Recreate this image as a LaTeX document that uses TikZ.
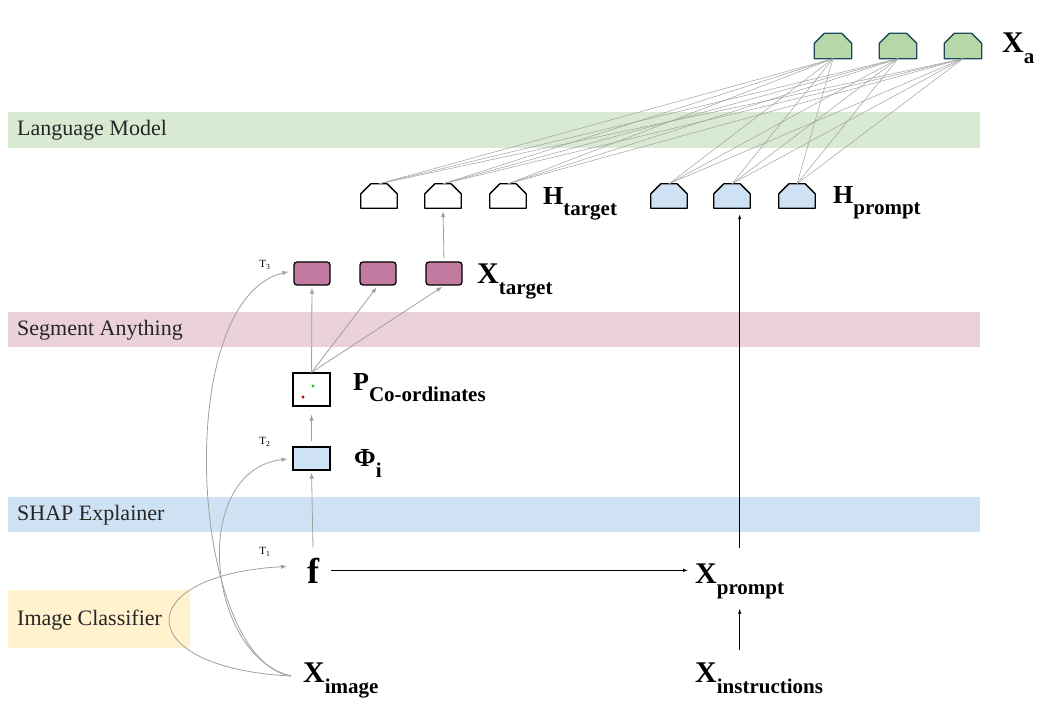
\documentclass[tikz,border=0pt]{standalone}
\usepackage{fontspec}
\setmainfont{Liberation Serif}
\usetikzlibrary{arrows.meta}

\definecolor{lmband}{HTML}{D9EAD3}
\definecolor{saband}{HTML}{EAD1DC}
\definecolor{shband}{HTML}{CFE2F3}
\definecolor{icband}{HTML}{FFF2CC}
\definecolor{tokgreen}{HTML}{B6D7A8}
\definecolor{tokedge}{HTML}{1C4A59}
\definecolor{tokblue}{HTML}{CFE2F3}
\definecolor{maskpink}{HTML}{C27BA0}
\definecolor{linkgray}{HTML}{A0A0A0}

% big symbol with a lowered subscript
\newcommand{\symlbl}[3]{{\fontsize{#1}{#1}\selectfont #2}\raisebox{-11pt}{\fontsize{21}{21}\selectfont #3}}
% token outline with cut top corners, drawn on a named node
\newcommand{\tokshape}[3]{\filldraw[fill=#2, draw=#3, line width=1.3pt, line join=round]
    (#1.south west) -- ([yshift=-10pt]#1.north west) -- ([xshift=10pt]#1.north west)
    -- ([xshift=-10pt]#1.north east) -- ([yshift=-10pt]#1.north east) -- (#1.south east) -- cycle;}

\begin{document}
\begin{tikzpicture}[x=1pt, y=-1pt,
    bandtext/.style={anchor=west, inner sep=0pt, text=black!85, font=\fontsize{22}{26}\selectfont},
    lbl/.style={anchor=base west, inner sep=0pt, font=\bfseries},
    tlbl/.style={inner sep=0pt, font=\fontsize{11}{11}\selectfont},
    tok/.style={rectangle, minimum width=36pt, minimum height=24pt, inner sep=0pt},
    mask/.style={rectangle, rounded corners=3pt, fill=maskpink, draw=black, line width=1.3pt,
        minimum width=36pt, minimum height=23pt, inner sep=0pt},
    link/.style={draw=linkgray, line width=0.5pt},
    garrow/.style={draw=linkgray, line width=0.8pt, -{Latex[length=6pt,width=4.5pt]}},
    barrow/.style={draw=black, line width=0.8pt, -{Latex[length=5pt,width=3.5pt]}}]

    \useasboundingbox (0,0) rectangle (1047,719);

    % Bands
    \fill[lmband] (8,112) rectangle (980,148);
    \node[bandtext] (lmtxt) at (17,130) {Language Model};
    \fill[saband] (8,312) rectangle (980,347);
    \node[bandtext] (satxt) at (17,330) {Segment Anything};
    \fill[shband] (8,497) rectangle (980,532);
    \node[bandtext] (shtxt) at (17,515) {SHAP Explainer};
    \fill[icband] (8,590) rectangle (190,648);
    \node[bandtext] (ictxt) at (17,620) {Image Classifier};

    % Output tokens X_a
    \foreach \i/\x in {1/833,2/898,3/963} {
        \node[tok, minimum width=37pt, minimum height=25pt] (xa\i) at (\x,46) {};
        \tokshape{xa\i}{tokgreen}{tokedge}
    }
    \node[lbl] (xalbl) at (1002,53) {\symlbl{30}{X}{a}};

    % Hidden states
    \foreach \i/\x in {1/379,2/443,3/508} {
        \node[tok] (ht\i) at (\x,196) {};
        \tokshape{ht\i}{white}{black}
    }
    \node[lbl] (htlbl) at (543,205) {\symlbl{26}{H}{target}};
    \foreach \i/\x in {1/669,2/732,3/797} {
        \node[tok] (hp\i) at (\x,196) {};
        \tokshape{hp\i}{tokblue}{black}
    }
    \node[lbl] (hplbl) at (833,204) {\symlbl{26}{H}{prompt}};

    % Masks X_target
    \foreach \i/\x in {1/312,2/378,3/444}
        \node[mask] (xt\i) at (\x,273.5) {};
    \node[lbl] (xtlbl) at (477,284) {\symlbl{30}{X}{target}};

    % Point prompt
    \node[draw, line width=1.2pt, minimum width=37pt, minimum height=33pt, inner sep=0pt] (pco) at (311.5,389.5) {};
    \fill[green!85!black] ([shift={(1.5,-3.5)}]pco.center) circle (1.6pt);
    \fill[red!80!black] ([shift={(-8.5,7.5)}]pco.center) circle (1.6pt);
    \node[lbl] (pcolbl) at (353,390) {\symlbl{26}{P}{Co-ordinates}};

    % SHAP values
    \node[draw, fill=tokblue, line width=1.2pt, minimum width=37pt, minimum height=23pt, inner sep=0pt] (phi) at (311.5,458.5) {};
    \node[lbl] (philbl) at (354,466) {\symlbl{26}{Φ}{i}};

    % Classifier, inputs, prompt
    \node[lbl] (f) at (307,583) {\fontsize{36}{36}\selectfont f};
    \node[lbl] (xpr) at (695,583) {\symlbl{30}{X}{prompt}};
    \node[lbl] (ximg) at (303,682) {\symlbl{30}{X}{image}};
    \node[lbl] (xin) at (695,682) {\symlbl{30}{X}{instructions}};

    % Step labels
    \node[tlbl] (t1) at (265,552) {T\textsubscript{1}};
    \node[tlbl] (t2) at (265,442) {T\textsubscript{2}};
    \node[tlbl] (t3) at (265,265) {T\textsubscript{3}};

    % Language model links
    \foreach \h in {ht1,ht2,ht3,hp1,hp2,hp3}
        \foreach \a in {xa1,xa2,xa3}
            \draw[link] (\h.north) -- (\a.south);

    % Image branch
    \coordinate (imgsrc) at ([xshift=-12pt,yshift=4pt]ximg.west);
    \draw[garrow, shorten >=20pt] (imgsrc) .. controls (130,668) and (130,575) .. ([yshift=5pt]f.west);
    \draw[garrow, shorten >=5pt] (imgsrc) .. controls (205,655) and (190,470) .. (phi.west);
    \draw[garrow, shorten >=5pt] (imgsrc) .. controls (190,660) and (170,300) .. ([yshift=3pt]xt1.west);

    \draw[garrow, shorten <=10pt, shorten >=2pt] (f.north) -- (phi.south);
    \draw[garrow, shorten <=5pt, shorten >=8pt] (phi.north) -- (pco.south);
    \foreach \i in {1,2,3}
        \draw[garrow, shorten >=2pt] (pco.north) -- (xt\i.south);
    \draw[garrow, shorten <=3pt, shorten >=3pt] (xt3.north) -- (ht2.south);

    % Prompt branch
    \draw[barrow, shorten <=12pt, shorten >=7pt] (f.east) -- (f.east -| xpr.west);
    \draw[barrow, shorten <=12pt, shorten >=10pt] (xpr.south |- xin.north) -- (xpr.south);
    \draw[barrow, shorten <=15pt, shorten >=6pt] (xpr.north) -- (xpr.north |- hp2.south);
\end{tikzpicture}
\end{document}
